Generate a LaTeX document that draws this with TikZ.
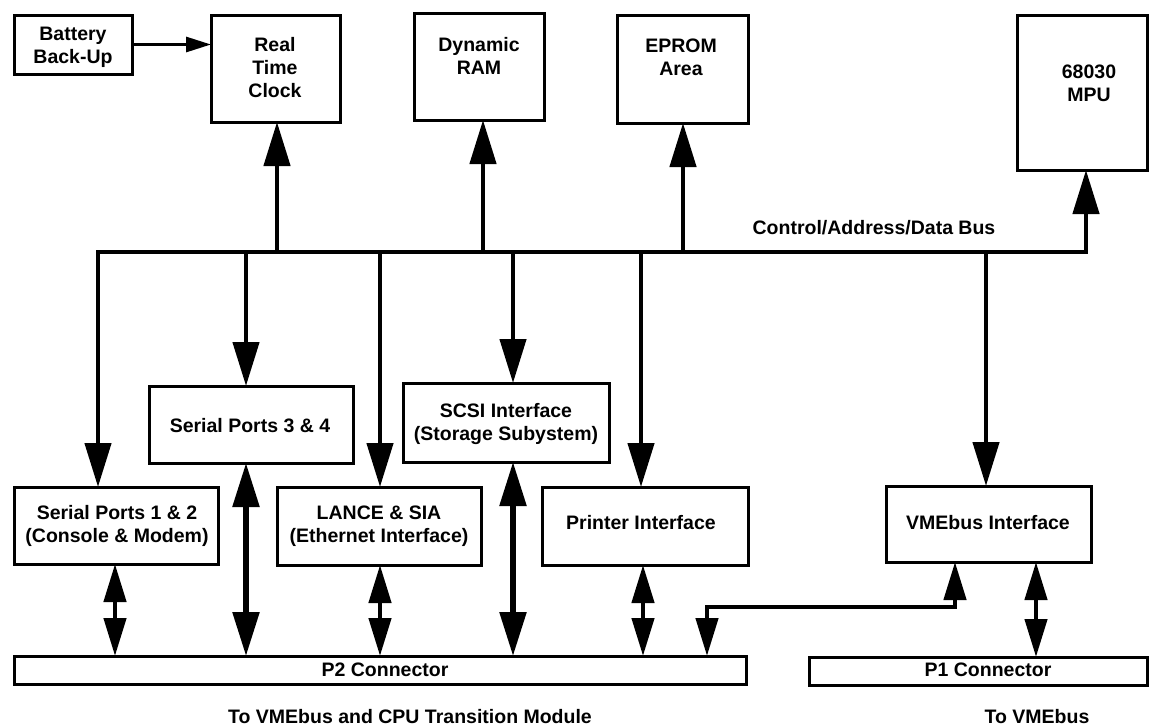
\documentclass[tikz,border=0pt]{standalone}
\usepackage{fontspec}
\setmainfont{Liberation Sans}
\usetikzlibrary{arrows.meta}
\tikzset{
  BigT/.tip={Triangle[width=26pt,length=44pt]},
  SmT/.tip={Triangle[width=22pt,length=38pt]},
  ThinT/.tip={Triangle[width=15pt,length=25pt]},
}
\begin{document}
\begin{tikzpicture}[x=1pt,y=-1pt,
  box/.style={draw, line width=3pt, inner sep=0pt, outer sep=0pt, rectangle},
  lbl/.style={font=\bfseries\fontsize{19.5}{23}\selectfont, align=center, inner sep=0pt},
  bus/.style={line width=4.5pt, line join=miter},
  dbl/.style={line width=4.5pt, line join=miter, {SmT}-{SmT}},
  dblL/.style={line width=5.5pt, {BigT}-{BigT}},
]
\useasboundingbox (0,0) rectangle (1149,726);

% boxes
\node[box, minimum width=118, minimum height=59] (bat) at (73,44.5) {};
\node[box, minimum width=129, minimum height=107] (rtc) at (275.5,68.5) {};
\node[box, minimum width=130, minimum height=107] (dram) at (479,66.5) {};
\node[box, minimum width=131, minimum height=108] (eprom) at (682.5,69) {};
\node[box, minimum width=130, minimum height=155] (mpu) at (1082,92.5) {};
\node[box, minimum width=204, minimum height=77] (s34) at (251,424.5) {};
\node[box, minimum width=206, minimum height=79] (scsi) at (506,422.5) {};
\node[box, minimum width=204, minimum height=77] (s12) at (116,525.5) {};
\node[box, minimum width=204, minimum height=78] (lance) at (379,526) {};
\node[box, minimum width=206, minimum height=78] (prn) at (645,526) {};
\node[box, minimum width=205, minimum height=76] (vme) at (988.5,524) {};
\node[box, minimum width=732, minimum height=28] (p2) at (380,670) {};
\node[box, minimum width=338, minimum height=28] (p1) at (978,671) {};

% texts
\node[lbl] (tbat) at (73,47) {Battery\\Back-Up};
\node[lbl] (trtc) at (275,68) {Real\\Time\\Clock};
\node[lbl] (tdram) at (479,56) {Dynamic\\RAM};
\node[lbl] (teprom) at (681,57) {EPROM\\Area};
\node[lbl] (tmpu) at (1089,83) {68030\\MPU};
\node[lbl] (ts34) at (250,426) {Serial Ports 3 \& 4};
\node[lbl] (tscsi) at (506,424) {SCSI Interface\\(Storage Subystem)};
\node[lbl] (ts12) at (117,526) {Serial Ports 1 \& 2\\(Console \& Modem)};
\node[lbl] (tlance) at (379,526) {LANCE \& SIA\\(Ethernet Interface)};
\node[lbl] (tprn) at (641,523) {Printer Interface};
\node[lbl] (tvme) at (988,523) {VMEbus Interface};
\node[lbl] (tp2) at (385,670) {P2 Connector};
\node[lbl] (tp1) at (988,670) {P1 Connector};
\node[lbl] (tbus) at (874,228) {Control/Address/Data Bus};
\node[lbl] (tto2) at (410,717) {To VMEbus and CPU Transition Module};
\node[lbl] (tto1) at (1037,717) {To VMEbus};

% bus
\coordinate (bl) at (98,252);
\coordinate (br) at (1086,252);
\draw[bus, {BigT}-{BigT}] (bl |- s12.north) -- (bl) -- (br) -- (br |- mpu.south);

% battery
\draw[line width=3pt, -{ThinT}] (bat.east) -- (bat.east -| rtc.west);

% up from bus
\coordinate (u1) at (277,252);
\coordinate (u2) at (483,252);
\coordinate (u3) at (683,252);
\draw[bus, -{BigT}] (u1) -- (u1 |- rtc.south);
\draw[bus, -{BigT}] (u2) -- (u2 |- dram.south);
\draw[bus, -{BigT}] (u3) -- (u3 |- eprom.south);

% down from bus
\coordinate (d1) at (246,252);
\coordinate (d2) at (380,252);
\coordinate (d3) at (513,252);
\coordinate (d4) at (641,252);
\coordinate (d5) at (986,252);
\draw[bus, -{BigT}] (d1) -- (d1 |- s34.north);
\draw[bus, -{BigT}] (d2) -- (d2 |- lance.north);
\draw[bus, -{BigT}] (d3) -- (d3 |- scsi.north);
\draw[bus, -{BigT}] (d4) -- (d4 |- prn.north);
\draw[bus, -{BigT}] (d5) -- (d5 |- vme.north);

% to connectors
\coordinate (c1) at (115,600);
\coordinate (c2) at (246,600);
\coordinate (c3) at (380,600);
\coordinate (c4) at (513,600);
\coordinate (c5) at (643,600);
\coordinate (c6) at (1036,600);
\draw[dbl] (c1 |- s12.south) -- (c1 |- p2.north);
\draw[dblL] (c2 |- s34.south) -- (c2 |- p2.north);
\draw[dbl] (c3 |- lance.south) -- (c3 |- p2.north);
\draw[dblL] (c4 |- scsi.south) -- (c4 |- p2.north);
\draw[dbl] (c5 |- prn.south) -- (c5 |- p2.north);
\draw[dbl] (c6 |- vme.south) -- (c6 |- p1.north);

\coordinate (v1) at (955,607);
\coordinate (v2) at (707,607);
\draw[dbl] (v1 |- vme.south) -- (v1) -- (v2) -- (v2 |- p2.north);
\end{tikzpicture}
\end{document}
